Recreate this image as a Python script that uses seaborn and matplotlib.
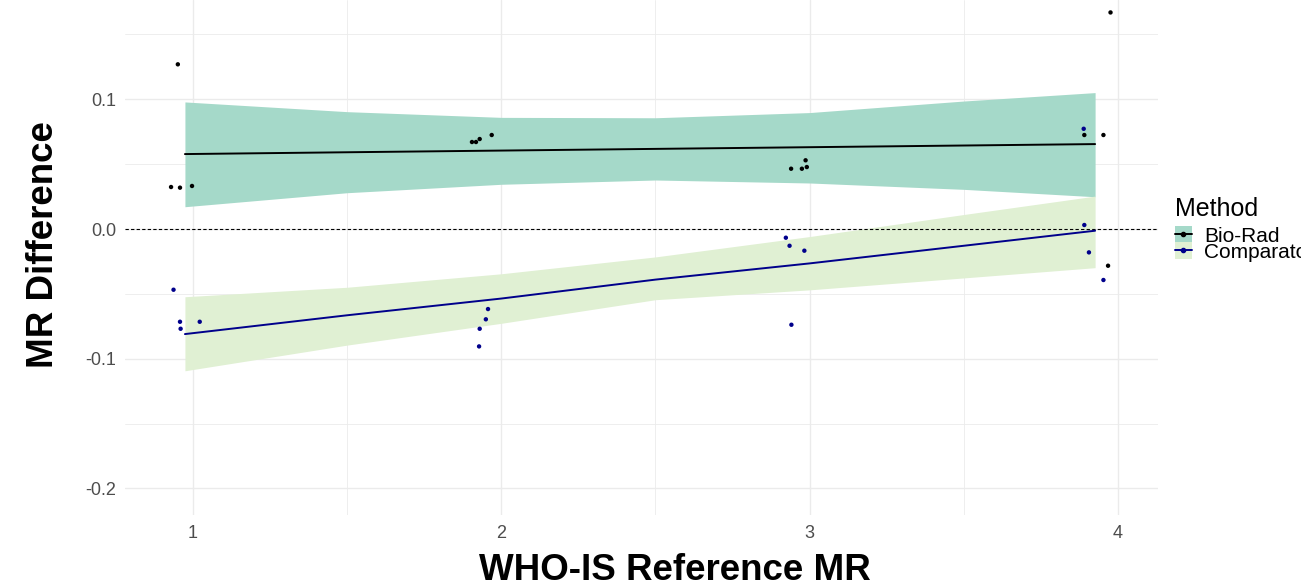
import numpy as np
import pandas as pd
import seaborn as sns
import matplotlib
matplotlib.use("Agg")
import matplotlib.pyplot as plt
from matplotlib.patches import Patch
from matplotlib.lines import Line2D

# --- data ---
biorad_x = [0.929, 0.958, 0.997, 0.951, 1.905, 1.918, 1.930, 1.969,
            2.940, 2.975, 2.987, 2.991, 3.891, 3.953, 3.968, 3.976]
biorad_y = [0.0324, 0.0319, 0.0332, 0.127, 0.0671, 0.0671, 0.0694, 0.0725,
            0.0465, 0.0465, 0.0530, 0.0478, 0.0725, 0.0725, -0.0283, 0.167]
comp_x = [0.937, 0.958, 0.960, 1.022, 1.928, 1.930, 1.950, 1.957,
          2.923, 2.935, 2.983, 2.941, 3.889, 3.891, 3.906, 3.953]
comp_y = [-0.0468, -0.0715, -0.0769, -0.0715, -0.0905, -0.0769, -0.0696, -0.0617,
          -0.0067, -0.0129, -0.0167, -0.0738, 0.0773, 0.0031, -0.0180, -0.0393]

# fitted lm lines and 95% bands
fit_x = [0.974, 1.5, 2.0, 2.5, 3.0, 3.5, 3.926]
biorad_fit = [0.0578, 0.0592, 0.0605, 0.0618, 0.0631, 0.0644, 0.0655]
biorad_hi = [0.0980, 0.0905, 0.0861, 0.0858, 0.0898, 0.0987, 0.1052]
biorad_lo = [0.0172, 0.0280, 0.0345, 0.0378, 0.0355, 0.0306, 0.0249]
comp_fit = [-0.0810, -0.0665, -0.0536, -0.0390, -0.0265, -0.0129, -0.0013]
comp_hi = [-0.0522, -0.0449, -0.0345, -0.0215, -0.0058, 0.0112, 0.0254]
comp_lo = [-0.1093, -0.0895, -0.0727, -0.0545, -0.0469, -0.0377, -0.0298]

methods = ["Bio-Rad", "Comparator"]
point_cols = {"Bio-Rad": "black", "Comparator": "#00008B"}
band_cols = {"Bio-Rad": "#A5D9C9", "Comparator": "#E0F0D3"}

pts = pd.DataFrame({
    "ref": biorad_x + comp_x,
    "diff": biorad_y + comp_y,
    "Method": ["Bio-Rad"] * len(biorad_x) + ["Comparator"] * len(comp_x),
})
fits = pd.DataFrame({
    "ref": fit_x * 2,
    "fit": biorad_fit + comp_fit,
    "lo": biorad_lo + comp_lo,
    "hi": biorad_hi + comp_hi,
    "Method": ["Bio-Rad"] * len(fit_x) + ["Comparator"] * len(fit_x),
})

sns.set_theme(style="white")
plt.rcParams["font.family"] = ["Liberation Sans", "DejaVu Sans"]

fig = plt.figure(figsize=(13.01, 5.85), dpi=100)
ax = fig.add_axes([124.5 / 1301, 1 - 515 / 585, (1158 - 124.5) / 1301, 515 / 585])

for m in methods:
    d = fits[fits.Method == m]
    ax.fill_between(d.ref, d.lo, d.hi, color=band_cols[m], lw=0, zorder=1)
sns.lineplot(data=fits, x="ref", y="fit", hue="Method", palette=point_cols,
             lw=1.4, legend=False, ax=ax, zorder=3)
ax.axhline(0, color="black", lw=0.8, ls=(0, (3, 2)), zorder=2)
sns.scatterplot(data=pts, x="ref", y="diff", hue="Method", palette=point_cols,
                s=10, linewidth=0, legend=False, ax=ax, zorder=4)

ax.set_xlim(0.778, 4.130)
ax.set_ylim(-0.2205, 0.1766)
ax.set_xticks([1, 2, 3, 4])
ax.set_xticks([1.5, 2.5, 3.5], minor=True)
ax.set_yticks([-0.2, -0.1, 0.0, 0.1])
ax.set_yticks([-0.15, -0.05, 0.05, 0.15], minor=True)
ax.set_yticklabels(["-0.2", "-0.1", "0.0", "0.1"])
ax.grid(which="major", color="#EBEBEB", lw=1.0, zorder=0)
ax.grid(which="minor", color="#EBEBEB", lw=0.6, zorder=0)
ax.set_axisbelow(True)
for s in ax.spines.values():
    s.set_visible(False)
ax.tick_params(which="both", length=0, labelsize=13, labelcolor="#4D4D4D")
ax.tick_params(axis="x", pad=7)
ax.tick_params(axis="y", pad=6)
ax.set_xlabel("")
ax.set_ylabel("")

fig.text(675 / 1301, 1 - 580 / 585, "WHO-IS Reference MR", ha="center", va="baseline",
         fontsize=26.5, fontweight="bold", color="black")
fig.text(44 / 1301, 1 - 245 / 585, "MR Difference", ha="center", va="center",
         rotation=90, fontsize=26.5, fontweight="bold", color="black")

# legend: title as its own text, keys as fill + line with point
fig.text(1175 / 1301, 1 - 216 / 585, "Method", ha="left", va="baseline",
         fontsize=18, color="black")
handles = [(Patch(facecolor=band_cols[m], lw=0),
            Line2D([], [], color=point_cols[m], lw=1.4, marker="o", markersize=3))
           for m in methods]
leg = fig.legend(handles, methods, loc="upper left",
                 bbox_to_anchor=(1175 / 1301, 1 - 226 / 585), frameon=False,
                 fontsize=15, handlelength=0.8, handleheight=0.85,
                 handletextpad=0.6, labelspacing=-0.15, borderpad=0, borderaxespad=0,
                 numpoints=1)
for t in leg.get_texts():
    t.set_color("black")

fig.savefig("out.png", dpi=100)
